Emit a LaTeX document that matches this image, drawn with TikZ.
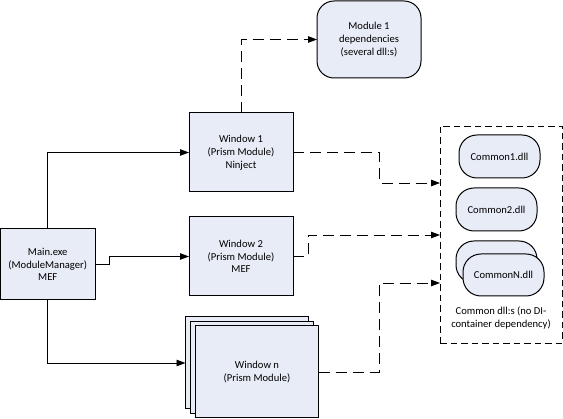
\documentclass[tikz,border=0pt]{standalone}
\usepackage{fontspec}
\setmainfont{Carlito}
\usetikzlibrary{arrows.meta}
\definecolor{boxfill}{RGB}{232,236,246}
\tikzset{
  every node/.style={font=\fontsize{10.6}{12.8}\selectfont, align=center, inner sep=0pt, outer sep=0pt},
  box/.style={draw=black, line width=1pt, fill=boxfill},
  rbox/.style={box, rounded corners=17pt},
  oval/.style={box, rounded corners=18pt, minimum width=81pt, minimum height=43pt},
  solidarrow/.style={line width=0.9pt, -{Triangle[length=9pt,width=6.5pt]}},
  dasharrow/.style={line width=0.9pt, dash pattern=on 11pt off 6pt, -{Triangle[length=9pt,width=6.5pt]}},
  contbox/.style={draw=black, line width=0.9pt, dash pattern=on 6.5pt off 4pt}
}
\begin{document}
\begin{tikzpicture}[x=1pt,y=-1pt]
\useasboundingbox (0,0) rectangle (563,419);
% nodes
\node[box, minimum width=95pt, minimum height=71pt] (main) at (47.75,264.5) {Main.exe\\(ModuleManager)\\MEF};
\node[box, minimum width=104pt, minimum height=79pt] (w1) at (241,152.5) {Window 1\\(Prism Module)\\Ninject};
\node[box, minimum width=104pt, minimum height=79pt] (w2) at (241,256.5) {Window 2\\(Prism Module)\\MEF};
\node[box, minimum width=123pt, minimum height=92pt] (wnb) at (247,363) {};
\node[box, minimum width=123pt, minimum height=92pt] (wnm) at (252,367.5) {};
\node[box, minimum width=123pt, minimum height=92pt] (wnf) at (257,372) {Window n\\(Prism Module)};
\node[rbox, minimum width=104pt, minimum height=77pt] (mod1) at (369,39.5) {Module 1\\dependencies\\(several dll:s)};
\node[contbox, minimum width=122pt, minimum height=217pt] (cont) at (501,234.5) {};
\node[oval] (c1) at (499.5,156.5) {Common1.dll};
\node[oval] (c2) at (496.5,209.5) {Common2.dll};
\node[oval, minimum height=42pt] (cnb) at (496.5,262) {};
\node[oval, minimum height=42pt] (cnf) at (503.5,275) {CommonN.dll};
\node (cap) at (501,318) {Common dll:s (no DI-\\container dependency)};
% junction coordinates
\coordinate (j1) at (379,183);
\coordinate (j2) at (308,235);
\coordinate (j3) at (379,283);
\coordinate (j4) at (109.5,256.5);
% solid connectors
\draw[solidarrow] (main.north) |- (w1.west);
\draw[solidarrow] (main.east) -| (j4) -- (w2.west);
\draw[solidarrow] (main.south) |- (wnb.west);
% dashed connectors
\draw[dasharrow] (w1.north) |- (mod1.west);
\draw[dasharrow] (w1.east) -| (j1) -- (cont.west |- j1);
\draw[dasharrow] (w2.east) -| (j2) -- (cont.west |- j2);
\draw[dasharrow] (wnf.east) -| (j3) -- (cont.west |- j3);
\end{tikzpicture}
\end{document}
